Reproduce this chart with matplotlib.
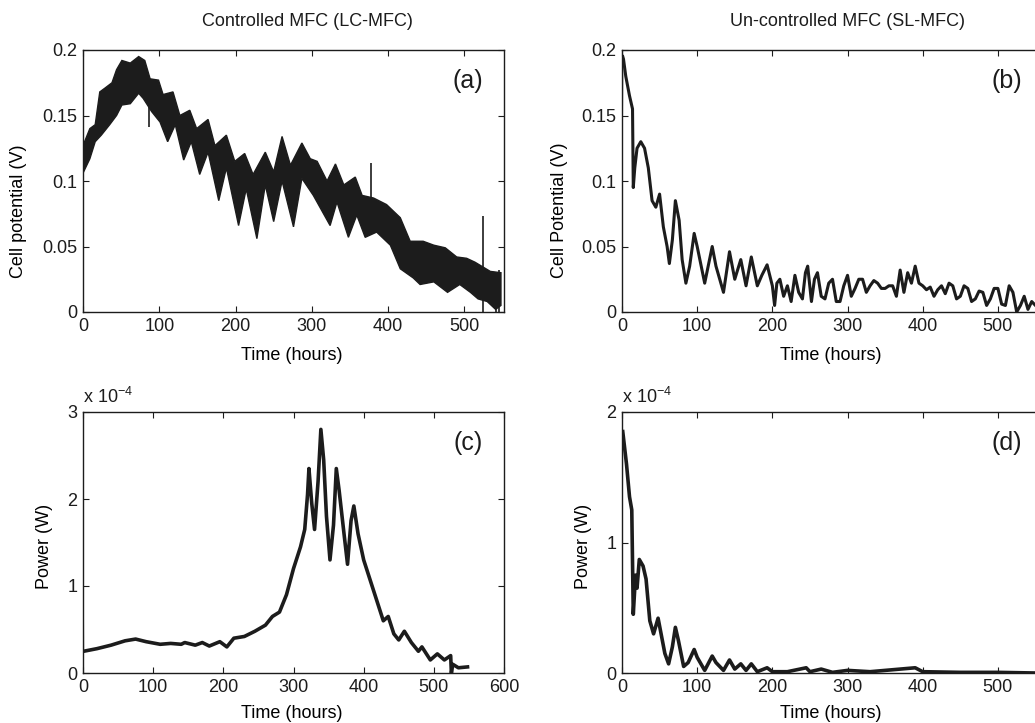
import numpy as np
import matplotlib
matplotlib.use("Agg")
import matplotlib.pyplot as plt

plt.rcParams['font.family'] = ['Liberation Sans', 'DejaVu Sans']
plt.rcParams['font.size'] = 13

# (a) controlled MFC cell potential: noisy band, upper and lower edge read separately (V)
t_up_a = [0, 9, 16, 22, 29, 38, 44, 51, 62, 73, 81, 88, 99, 105, 118, 127, 140, 149, 164,
          173, 188, 199, 212, 223, 239, 250, 261, 272, 287, 298, 307, 320, 331, 342, 357,
          366, 381, 398, 416, 429, 446, 460, 475, 490, 503, 514, 534, 548]
up_a = [.127, .140, .143, .168, .171, .175, .185, .192, .190, .195, .192, .178, .177, .166,
        .168, .150, .154, .140, .147, .127, .135, .115, .121, .105, .122, .107, .134, .112,
        .129, .117, .115, .100, .113, .097, .103, .089, .087, .082, .072, .054, .054, .051,
        .049, .042, .041, .038, .031, .030]
t_lo_a = [0, 9, 16, 24, 35, 44, 51, 62, 73, 79, 90, 101, 111, 121, 132, 142, 153, 164, 178,
          188, 204, 214, 228, 239, 250, 261, 276, 287, 302, 324, 333, 348, 359, 370, 385,
          403, 416, 433, 442, 460, 478, 494, 508, 518, 530, 541, 548]
lo_a = [.106, .117, .130, .135, .143, .150, .158, .159, .167, .163, .153, .145, .130, .143,
        .116, .130, .105, .122, .085, .110, .066, .094, .056, .097, .069, .100, .065, .102,
        .089, .066, .084, .057, .074, .057, .061, .051, .033, .026, .021, .023, .015, .021,
        .015, .010, .008, .002, .005]
# single spikes in (a): time, low, high
spike_t = [86, 377, 525, 541, 546]
spike_lo = [0.141, 0.075, 0.0, 0.0, 0.0]
spike_hi = [0.165, 0.114, 0.073, 0.030, 0.032]

# (b) un-controlled MFC cell potential (V)
t_b = [0, 1, 2, 5, 10, 14, 15, 17, 20, 25, 30, 35, 40, 45, 50, 55, 60, 63, 67, 71, 76, 80,
       85, 90, 96, 100, 110, 120, 125, 135, 143, 150, 158, 165, 172, 180, 186, 193, 200,
       203, 206, 210, 215, 220, 225, 230, 235, 240, 244, 247, 252, 256, 260, 265, 270, 275,
       280, 285, 290, 295, 300, 305, 310, 315, 320, 325, 330, 335, 340, 345, 350, 355, 360,
       365, 370, 375, 380, 385, 390, 395, 400, 405, 410, 415, 420, 425, 430, 435, 440, 445,
       450, 455, 460, 465, 470, 475, 480, 485, 490, 495, 500, 505, 510, 515, 520, 525, 530,
       535, 540, 545, 550]
v_b = [0.085, 0.195, 0.193, 0.180, 0.165, 0.155, 0.095, 0.110, 0.125, 0.130, 0.125, 0.110,
       0.085, 0.080, 0.090, 0.065, 0.050, 0.037, 0.055, 0.085, 0.070, 0.040, 0.022, 0.035,
       0.060, 0.050, 0.022, 0.050, 0.035, 0.015, 0.046, 0.025, 0.040, 0.020, 0.042, 0.020,
       0.028, 0.036, 0.020, 0.005, 0.022, 0.025, 0.012, 0.020, 0.008, 0.028, 0.015, 0.010,
       0.030, 0.035, 0.008, 0.025, 0.030, 0.012, 0.010, 0.022, 0.025, 0.008, 0.008, 0.020,
       0.028, 0.012, 0.018, 0.025, 0.025, 0.015, 0.020, 0.024, 0.022, 0.018, 0.018, 0.020,
       0.020, 0.012, 0.032, 0.015, 0.030, 0.022, 0.035, 0.022, 0.020, 0.017, 0.019, 0.012,
       0.017, 0.020, 0.014, 0.022, 0.020, 0.010, 0.012, 0.020, 0.018, 0.008, 0.010, 0.016,
       0.015, 0.005, 0.010, 0.018, 0.018, 0.006, 0.005, 0.020, 0.015, 0.000, 0.005, 0.012,
       0.002, 0.008, 0.005]

# (c) controlled MFC power (x 1e-4 W)
t_c = [0, 1, 20, 40, 60, 75, 90, 110, 125, 140, 145, 160, 170, 180, 195, 205, 215, 230,
       245, 260, 270, 280, 290, 300, 310, 316, 320, 322, 326, 330, 335, 339, 343, 347, 352,
       357, 361, 365, 372, 377, 382, 386, 392, 400, 410, 420, 428, 435, 443, 450, 458, 468,
       478, 483, 495, 505, 515, 524, 525, 527, 535, 548]
p_c = [2.45, 0.25, 0.28, 0.32, 0.37, 0.39, 0.36, 0.33, 0.34, 0.33, 0.35, 0.32, 0.35, 0.31,
       0.36, 0.30, 0.40, 0.42, 0.48, 0.55, 0.65, 0.70, 0.90, 1.20, 1.45, 1.65, 2.05, 2.35,
       1.95, 1.65, 2.20, 2.80, 2.45, 1.80, 1.30, 1.70, 2.35, 2.10, 1.60, 1.25, 1.75, 1.92,
       1.60, 1.30, 1.05, 0.80, 0.60, 0.65, 0.45, 0.38, 0.48, 0.35, 0.25, 0.30, 0.15, 0.22,
       0.15, 0.20, 0.00, 0.10, 0.06, 0.07]

# (d) un-controlled MFC power (x 1e-4 W)
t_d = [0, 1, 3, 6, 10, 13, 15, 18, 20, 23, 28, 32, 37, 42, 48, 52, 57, 62, 67, 71, 75, 82,
       88, 96, 100, 110, 120, 125, 135, 143, 150, 158, 165, 172, 180, 193, 200, 220, 245,
       250, 265, 280, 300, 330, 370, 390, 400, 450, 500, 550]
p_d = [0.0, 1.85, 1.75, 1.60, 1.35, 1.25, 0.45, 0.75, 0.65, 0.87, 0.82, 0.72, 0.40, 0.30,
       0.42, 0.30, 0.15, 0.07, 0.20, 0.35, 0.25, 0.05, 0.08, 0.18, 0.12, 0.02, 0.13, 0.08,
       0.02, 0.10, 0.03, 0.07, 0.02, 0.07, 0.01, 0.04, 0.01, 0.01, 0.04, 0.01, 0.03, 0.005,
       0.02, 0.01, 0.03, 0.04, 0.01, 0.005, 0.005, 0.0]

ink = '#1c1c1c'
W, H = 1035, 723
fig = plt.figure(figsize=(W / 100, H / 100), dpi=100)

def box(left, top, width, height):
    return fig.add_axes([left / W, (H - top - height) / H, width / W, height / H])

ax_a = box(83, 50, 421, 262)
ax_b = box(622, 50, 421, 262)
ax_c = box(83, 412, 421, 261)
ax_d = box(622, 412, 421, 261)

# (a) band: upper edge forward, lower edge back
ax_a.fill(list(t_up_a) + list(t_lo_a[::-1]), list(up_a) + list(lo_a[::-1]),
          color=ink, lw=1.0, edgecolor=ink)
ax_a.vlines(spike_t, spike_lo, spike_hi, color=ink, lw=1.2)
ax_a.set_xlim(0, 552)
ax_a.set_ylim(0, 0.2)
ax_a.set_yticks([0, 0.05, 0.1, 0.15, 0.2])
ax_a.set_yticklabels(['0', '0.05', '0.1', '0.15', '0.2'])
ax_a.set_ylabel('Cell potential (V)')
ax_a.yaxis.set_label_coords(-0.133, 0.385)

# (b)
ax_b.plot(t_b[:2], v_b[:2], color=ink, lw=0.8)
ax_b.plot(t_b[1:], v_b[1:], color=ink, lw=2.2)
ax_b.set_xlim(0, 560)
ax_b.set_ylim(0, 0.2)
ax_b.set_yticks([0, 0.05, 0.1, 0.15, 0.2])
ax_b.set_yticklabels(['0', '0.05', '0.1', '0.15', '0.2'])
ax_b.set_ylabel('Cell Potential (V)')
ax_b.yaxis.set_label_coords(-0.128, 0.39)

# (c)
ax_c.plot(t_c[:2], p_c[:2], color=ink, lw=0.6)
ax_c.plot(t_c[1:], p_c[1:], color=ink, lw=2.6)
ax_c.set_xlim(0, 600)
ax_c.set_ylim(0, 3)
ax_c.set_yticks([0, 1, 2, 3])
ax_c.set_ylabel('Power (W)')
ax_c.yaxis.set_label_coords(-0.071, 0.483)

# (d)
ax_d.plot(t_d[:2], p_d[:2], color=ink, lw=0.6)
ax_d.plot(t_d[1:], p_d[1:], color=ink, lw=2.6)
ax_d.set_xlim(0, 560)
ax_d.set_ylim(0, 2)
ax_d.set_yticks([0, 1, 2])
ax_d.set_ylabel('Power (W)')
ax_d.yaxis.set_label_coords(-0.071, 0.483)

for ax in (ax_a, ax_b, ax_d):
    ax.set_xticks([0, 100, 200, 300, 400, 500])
ax_c.set_xticks([0, 100, 200, 300, 400, 500, 600])

for ax, lab in zip((ax_a, ax_b, ax_c, ax_d), ['(a)', '(b)', '(c)', '(d)']):
    ax.set_xlabel('Time (hours)')
    ax.xaxis.set_label_coords(0.495, -0.133 if ax in (ax_a, ax_b) else -0.122)
    ax.tick_params(direction='in', top=True, right=True, length=4, width=0.8,
                   labelsize=13, colors=ink, pad=4)
    for s in ax.spines.values():
        s.set_linewidth(1.0)
        s.set_color(ink)
    ax.text(0.915, 0.88, lab, transform=ax.transAxes, fontsize=18, color=ink,
            ha='center', va='center')

for ax in (ax_c, ax_d):
    ax.text(0.0, 1.02, r'x 10$^{\mathregular{-4}}$', transform=ax.transAxes,
            fontsize=13, color=ink, ha='left', va='bottom')

fig.text(307 / W, 1 - 22 / H, 'Controlled MFC (LC-MFC)', ha='center', va='center',
         fontsize=13, color=ink)
fig.text(847 / W, 1 - 22 / H, 'Un-controlled MFC (SL-MFC)', ha='center', va='center',
         fontsize=13, color=ink)

fig.savefig('out.png', dpi=100)
